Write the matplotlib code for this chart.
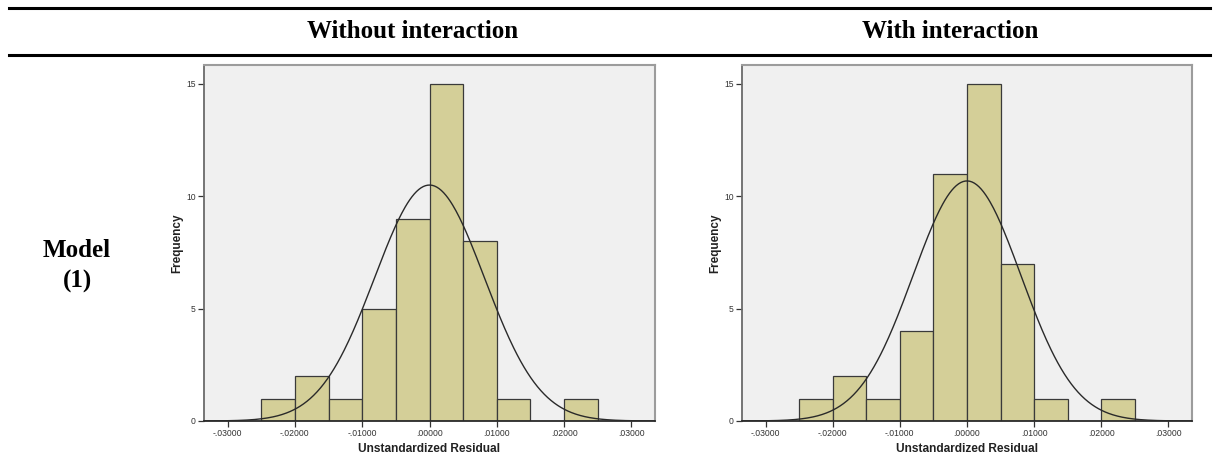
import numpy as np
import matplotlib
matplotlib.use("Agg")
import matplotlib.pyplot as plt
from matplotlib.lines import Line2D

# residual histograms, bins of width .005 from -.025 to .025
bin_edges = [-0.025, -0.020, -0.015, -0.010, -0.005, 0.0, 0.005, 0.010, 0.015, 0.020, 0.025]
counts_without = [1, 2, 1, 5, 9, 15, 8, 1, 0, 1]
counts_with = [1, 2, 1, 4, 11, 15, 7, 1, 0, 1]

# normal curve parameters (mean, std dev) of the residuals
norm_without = (0.0, 0.00817)
norm_with = (0.0, 0.00803)

col_titles = ["Without interaction", "With interaction"]
row_title = "Model\n(1)"

xticks = [-0.03, -0.02, -0.01, 0.0, 0.01, 0.02, 0.03]
xtick_labels = ["-.03000", "-.02000", "-.01000", ".00000", ".01000", ".02000", ".03000"]
yticks = [0, 5, 10, 15]
ytick_labels = ["0", "5", "10", "15"]

W, H = 1215, 457
fig = plt.figure(figsize=(W / 100, H / 100), dpi=100)
fig.patch.set_facecolor("white")


def px_axes(x0, x1, ytop, ybot):
    return fig.add_axes([x0 / W, (H - ybot) / H, (x1 - x0) / W, (ybot - ytop) / H])


def draw_hist(ax, counts, params):
    n = sum(counts)
    widths = np.diff(bin_edges)
    ax.bar(bin_edges[:-1], counts, width=widths, align="edge",
           color="#d4cf98", edgecolor="#3a3a3a", linewidth=0.9, zorder=2)
    mu, sd = params
    xs = np.linspace(-0.0335, 0.0335, 400)
    ys = n * widths[0] * np.exp(-0.5 * ((xs - mu) / sd) ** 2) / (sd * np.sqrt(2 * np.pi))
    ax.plot(xs, ys, color="#2a2a2a", linewidth=1.0, zorder=3)

    ax.set_xlim(-0.0335, 0.0335)
    ax.set_ylim(0, 15.84)
    ax.set_facecolor("#f0f0f0")
    ax.set_xticks(xticks)
    ax.set_xticklabels(xtick_labels)
    ax.set_yticks(yticks)
    ax.set_yticklabels(ytick_labels)
    ax.tick_params(axis="both", labelsize=6.2, colors="#333333", length=4, width=0.9, pad=2)
    for lbl in ax.get_xticklabels() + ax.get_yticklabels():
        lbl.set_family("Liberation Sans")
    for side in ["top", "right"]:
        ax.spines[side].set_color("#9c9c9c")
        ax.spines[side].set_linewidth(1.5)
    ax.spines["left"].set_color("#6a6a6a")
    ax.spines["left"].set_linewidth(1.3)
    ax.spines["bottom"].set_color("#2a2a2a")
    ax.spines["bottom"].set_linewidth(1.3)
    ax.set_xlabel("Unstandardized Residual", fontsize=8.6, fontweight="bold",
                  family="Liberation Sans", color="#222222", labelpad=3)
    ax.set_ylabel("Frequency", fontsize=8.5, fontweight="bold",
                  family="Liberation Sans", color="#222222", labelpad=2)


ax1 = px_axes(204, 655, 65, 421)
draw_hist(ax1, counts_without, norm_without)
ax2 = px_axes(742, 1192, 65, 421)
draw_hist(ax2, counts_with, norm_with)

# table rules and headings
for y in [7.5, 54.5]:
    fig.add_artist(Line2D([9 / W, 1210 / W], [1 - y / H, 1 - y / H],
                          transform=fig.transFigure, color="black", linewidth=2.2))
fig.text(413 / W, 1 - 31 / H, col_titles[0], ha="center", va="center",
         fontsize=18, fontweight="bold", family="Liberation Serif")
fig.text(950 / W, 1 - 31 / H, col_titles[1], ha="center", va="center",
         fontsize=18, fontweight="bold", family="Liberation Serif")
fig.text(77 / W, 1 - 266 / H, row_title, ha="center", va="center",
         fontsize=18, fontweight="bold", family="Liberation Serif", linespacing=1.4)

fig.savefig("out.png", dpi=100, facecolor="white")
